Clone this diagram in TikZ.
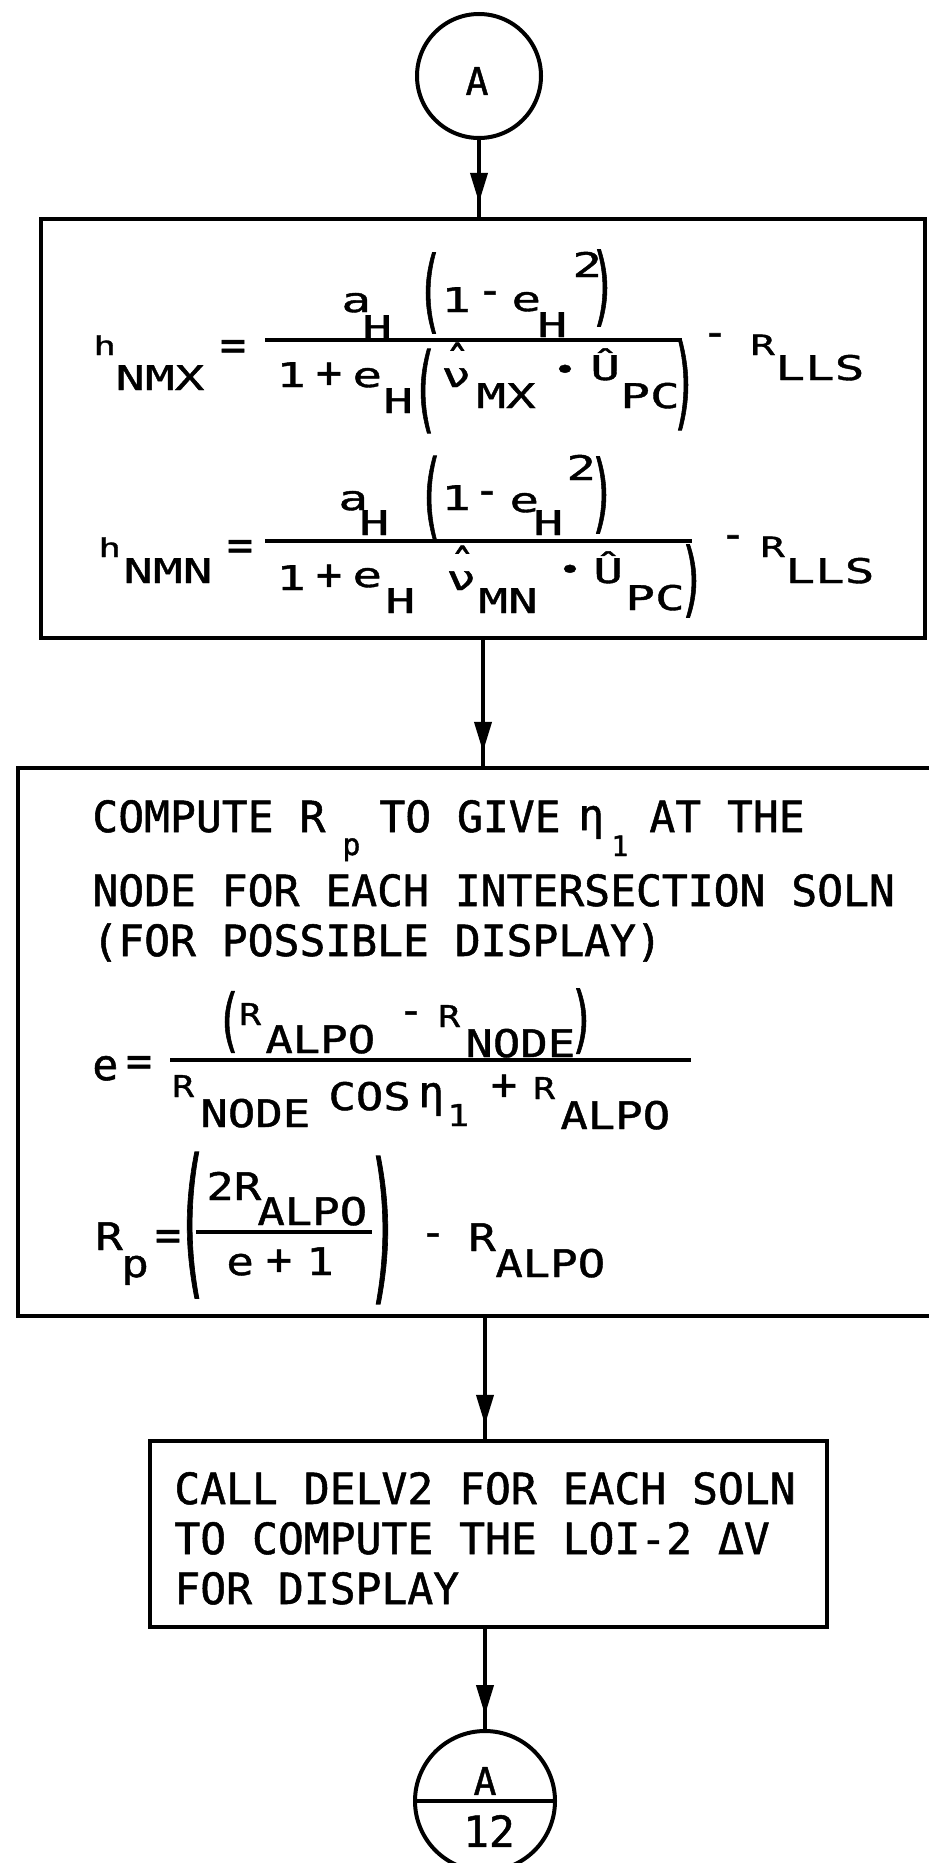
\documentclass[tikz,border=0pt]{standalone}
\usepackage{fontspec}
\usetikzlibrary{arrows.meta,decorations.markings}
\newfontfamily\monoT[FakeBold=1.2]{DejaVu Sans Mono}
\newfontfamily\monoA[FakeStretch=1.45,FakeBold=1.2]{DejaVu Sans Mono}
\newfontfamily\monoB[FakeStretch=1.2,FakeBold=1.2]{DejaVu Sans Mono}
\newcommand\myT{\monoT\fontsize{21.5pt}{25pt}\selectfont}
\newcommand\myTs{\monoT\fontsize{14pt}{16pt}\selectfont}
\newcommand\myS{\monoT\fontsize{15pt}{18pt}\selectfont}
\newcommand\myC{\monoT\fontsize{19pt}{22pt}\selectfont}
\newcommand\myA{\monoA\fontsize{17pt}{20pt}\selectfont}
\newcommand\myAs{\monoA\fontsize{14pt}{16pt}\selectfont}
\newcommand\myAh{\monoA\fontsize{13pt}{15pt}\selectfont}
\newcommand\myB{\monoB\fontsize{19pt}{22pt}\selectfont}
\newcommand\myBs{\monoB\fontsize{15pt}{18pt}\selectfont}
\newcommand\myLP[2]{\scalebox{#1}[#2]{(}}
\newcommand\myRP[2]{\scalebox{#1}[#2]{)}}
\newcommand\myNuHat{\makebox[0pt][l]{\hspace{1.5pt}\raisebox{5pt}{\myT ˆ}}ν}
\tikzset{
  tx/.style={inner sep=0pt, anchor=base west},
  ctr/.style={inner sep=0pt, anchor=center},
  op/.style={inner sep=0pt, anchor=center, font=\myT},
  box/.style={draw, rectangle, line width=2.2pt, inner sep=0pt},
  circ/.style={draw, circle, line width=2pt, inner sep=0pt},
  bar/.style={line width=2pt},
  conn/.style={line width=2pt, postaction={decorate},
    decoration={markings, mark=at position -7pt with {\arrow{Triangle[length=15pt,width=8.5pt]}}}},
}
\begin{document}
\begin{tikzpicture}[x=0.5pt, y=-0.5pt, font=\myA]
\useasboundingbox (0,0) rectangle (929,1863);
\fill[white] (0,0) rectangle (929,1863);
\clip (0,0) rectangle (929,1863);

% top connector circle
\node[circ, minimum size=62pt] (cA) at (479,76) {};
\node[ctr, font=\myC] (cAt) at (477,81) {A};

% box 1
\node[box, minimum width=442pt, minimum height=209.5pt] (b1) at (483,428.5) {};
% formula 1
\node[tx, font=\myAh] (f1h) at (93,355) {h};
\node[tx] (f1l) at (115,390) {NMX};
\node[op] (f1eq) at (233,350) {=};
\draw[bar] (265,340) -- (682,340);
\node[tx] (f1a) at (341,312) {a};
\node[tx] (f1aH) at (362,340) {H};
\node[ctr, font=\myT] (f1p1) at (430,293) {\myLP{1}{2.1}};
\node[tx] (f1one) at (441,312) {1};
\node[op] (f1m) at (490,298) {-};
\node[tx] (f1e) at (511,311) {e};
\node[tx] (f1eH) at (537,337) {H};
\node[tx] (f1two) at (572,277) {2};
\node[ctr, font=\myT] (f1p2) at (603,288) {\myRP{1}{2.0}};
\node[tx] (f1d1) at (276,387) {1};
\node[op] (f1plus) at (329,375) {+};
\node[tx] (f1de) at (352,387) {e};
\node[tx] (f1dH) at (383,413) {H};
\node[ctr, font=\myT] (f1p3) at (425,391) {\myLP{1}{2.2}};
\node[tx] (f1nu) at (441,387) {\myNuHat};
\node[tx] (f1mx) at (476,408) {MX};
\node[ctr, font=\myAs] (f1dot) at (565,372) {•};
\node[tx] (f1U) at (590,380) {Û};
\node[tx] (f1pc) at (620,408) {PC};
\node[ctr, font=\myT] (f1p4) at (684,385) {\myRP{1}{2.35}};
\node[op] (f1m2) at (715,340) {-};
\node[tx, font=\myAs] (f1R) at (750,355) {R};
\node[tx] (f1lls) at (775,380) {LLS};
% formula 2
\node[tx, font=\myAh] (f2h) at (98,557) {h};
\node[tx] (f2l) at (123,583) {NMN};
\node[op] (f2eq) at (240,550) {=};
\draw[bar] (265,541) -- (692,541);
\node[tx] (f2a) at (338,510) {a};
\node[tx] (f2aH) at (359,535) {H};
\node[ctr, font=\myT] (f2p1) at (431,498) {\myLP{1}{2.2}};
\node[tx] (f2one) at (441,510) {1};
\node[op] (f2m) at (487,498) {-};
\node[tx] (f2e) at (509,512) {e};
\node[tx] (f2eH) at (533,535) {H};
\node[tx] (f2two) at (566,480) {2};
\node[ctr, font=\myT] (f2p2) at (602,495) {\myRP{1}{2.0}};
\node[tx] (f2d1) at (276,590) {1};
\node[op] (f2plus) at (329,577) {+};
\node[tx] (f2de) at (352,587) {e};
\node[tx] (f2dH) at (385,613) {H};
\node[tx] (f2nu) at (446,590) {\myNuHat};
\node[tx] (f2mn) at (478,613) {MN};
\node[ctr, font=\myAs] (f2dot) at (570,572) {•};
\node[tx] (f2U) at (593,583) {Û};
\node[tx] (f2pc) at (625,610) {PC};
\node[ctr, font=\myT] (f2p4) at (692,581) {\myRP{1}{1.9}};
\node[op] (f2m2) at (733,542) {-};
\node[tx, font=\myAs] (f2R) at (760,557) {R};
\node[tx] (f2lls) at (785,583) {LLS};

% box 2
\node[box, minimum width=461pt, minimum height=274pt] (b2) at (479,1042) {};
\node[tx, font=\myT] (l1a) at (92,832) {COMPUTE R};
\node[tx, font=\myS] (l1p) at (342,855) {p};
\node[tx, font=\myT] (l1b) at (379,832) {TO GIVE};
\node[tx, font=\myT] (l1eta) at (578,830) {η};
\node[tx, font=\myTs] (l1one) at (611,856) {1};
\node[tx, font=\myT] (l1c) at (649,832) {AT THE};
\node[tx, font=\myT] (l2) at (92,906) {NODE FOR EACH INTERSECTION SOLN};
\node[tx, font=\myT] (l3) at (92,956) {(FOR POSSIBLE DISPLAY)};
% formula e
\node[tx, font=\myT] (ee) at (92,1080) {e};
\node[op] (eeq) at (139,1066) {=};
\draw[bar] (170,1060) -- (691,1060);
\node[ctr, font=\myT] (ep1) at (229,1022) {\myLP{1}{1.6}};
\node[tx, font=\myBs] (eR1) at (239,1025) {R};
\node[tx, font=\myB] (eA1) at (265,1053) {ALPO};
\node[op] (em) at (411,1018) {-};
\node[tx, font=\myBs] (eR2) at (438,1027) {R};
\node[tx, font=\myB] (eN1) at (465,1057) {NODE};
\node[ctr, font=\myT] (ep2) at (582,1021) {\myRP{1}{1.7}};
\node[tx, font=\myBs] (eR3) at (172,1097) {R};
\node[tx, font=\myB] (eN2) at (200,1127) {NODE};
\node[tx, font=\myB] (ecos) at (328,1110) {COS};
\node[tx, font=\myT] (eeta) at (418,1107) {η};
\node[tx, font=\myBs] (eone) at (447,1126) {1};
\node[op] (eplus) at (504,1087) {+};
\node[tx, font=\myBs] (eR4) at (533,1099) {R};
\node[tx, font=\myB] (eA2) at (560,1129) {ALPO};
% formula Rp
\node[tx, font=\myB] (rR) at (95,1250) {R};
\node[tx, font=\myB] (rpp) at (121,1277) {p};
\node[op] (req) at (168,1240) {=};
\node[ctr, font=\myT] (rp1) at (192,1225) {\myLP{1.2}{3.8}};
\node[tx, font=\myB] (r2R) at (206,1200) {2R};
\node[tx, font=\myB] (rA1) at (257,1225) {ALPO};
\draw[bar] (196,1232) -- (372,1232);
\node[tx, font=\myB] (re) at (226,1275) {e};
\node[op] (rplus) at (279,1262) {+};
\node[tx, font=\myB] (rone) at (306,1275) {1};
\node[ctr, font=\myT] (rp2) at (383,1230) {\myRP{1.2}{3.85}};
\node[op] (rm) at (433,1240) {-};
\node[tx, font=\myB] (rR2) at (468,1251) {R};
\node[tx, font=\myB] (rA2) at (495,1277) {ALPO};

% box 3
\node[box, minimum width=338.5pt, minimum height=93pt] (b3) at (488.5,1534) {};
\node[tx, font=\myT] (t1) at (174,1504) {CALL DELV2 FOR EACH SOLN};
\node[tx, font=\myT] (t2) at (174,1554) {TO COMPUTE THE LOI-2 ΔV};
\node[tx, font=\myT] (t3) at (174,1604) {FOR DISPLAY};

% bottom connector circle
\node[circ, minimum size=70pt] (c2) at (485,1801) {};
\draw[line width=2pt] (c2.west) -- (c2.east);
\node[ctr, font=\myC] (c2A) at (485,1781) {A};
\node[ctr, font=\myT] (c2n) at (489,1831) {12};

% connectors
\draw[conn] (cA.south) -- (cA.south |- b1.north);
\draw[conn] (b1.south) -- (b1.south |- b2.north);
\draw[conn] (c2.north |- b2.south) -- (c2.north |- b3.north);
\draw[conn] (c2.north |- b3.south) -- (c2.north);
\end{tikzpicture}
\end{document}
